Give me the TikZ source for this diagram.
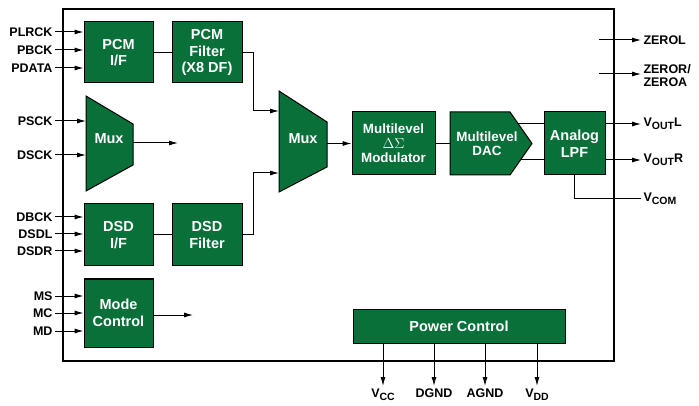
\documentclass[tikz,border=0pt]{standalone}
\usepackage{fontspec}
\setmainfont{Liberation Sans}
\usetikzlibrary{arrows.meta}
\definecolor{chipgreen}{RGB}{8,112,56}
\newcommand{\pinsub}[1]{\raisebox{-3pt}{\fontsize{10.5}{11}\selectfont #1}}

\begin{document}
\begin{tikzpicture}[x=1pt, y=-1pt, line width=1pt,
    blk/.style={draw=black, fill=chipgreen, text=white, inner sep=0pt, align=center,
      font=\fontsize{14.5}{16.5}\selectfont\bfseries},
    blktext/.style={text=white, inner sep=0pt, align=center,
      font=\fontsize{13.4}{14.5}\selectfont\bfseries},
    pin/.style={inner sep=2pt, align=left, font=\fontsize{12.5}{13}\selectfont\bfseries},
    sig/.style={-{Latex[length=9pt,width=5pt]}}]

  \useasboundingbox (0,0) rectangle (699,406);

  % --- chip outline ---
  \draw[line width=1.3pt] (63,9) rectangle (614,361);

  % --- PCM path ---
  \node[blk, minimum width=69pt, minimum height=61pt] (pcmif) at (118.5,52.5) {PCM\\I/F};
  \node[blk, minimum width=70pt, minimum height=61pt] (pcmflt) at (207,52.5) {PCM\\Filter\\(X8 DF)};
  \draw (pcmif) -- (pcmflt);

  \node[pin, anchor=east] (plrck) at (55,32) {PLRCK};
  \node[pin, anchor=east] (pbck) at (55,50) {PBCK};
  \node[pin, anchor=east] (pdata) at (55,68) {PDATA};
  \draw[sig] (plrck.east) -- (pcmif.west |- plrck.east);
  \draw[sig] (pbck.east) -- (pcmif.west |- pbck.east);
  \draw[sig] (pdata.east) -- (pcmif.west |- pdata.east);

  % --- clock mux ---
  \draw[fill=chipgreen] (86,96) -- (133,124) -- (133,165) -- (86,191) -- cycle;
  \node[blk, draw=none, fill=none] (mux1) at (109,139) {Mux};
  \coordinate (mux1in1) at (86,121);
  \coordinate (mux1in2) at (86,155);
  \coordinate (mux1out) at (133,143);
  \coordinate (mux1end) at (178,143);
  \node[pin, anchor=east] (psck) at (55,121) {PSCK};
  \node[pin, anchor=east] (dsck) at (55,155) {DSCK};
  \draw[sig] (psck.east) -- (mux1in1);
  \draw[sig] (dsck.east) -- (mux1in2);
  \draw[sig] (mux1out) -- (mux1end);

  % --- DSD path ---
  \node[blk, minimum width=69pt, minimum height=62pt] (dsdif) at (118.5,235) {DSD\\I/F};
  \node[blk, minimum width=70pt, minimum height=62pt] (dsdflt) at (207,235) {DSD\\Filter};
  \draw (dsdif) -- (dsdflt);

  \node[pin, anchor=east] (dbck) at (55,217) {DBCK};
  \node[pin, anchor=east] (dsdl) at (55,234) {DSDL};
  \node[pin, anchor=east] (dsdr) at (55,251) {DSDR};
  \draw[sig] (dbck.east) -- (dsdif.west |- dbck.east);
  \draw[sig] (dsdl.east) -- (dsdif.west |- dsdl.east);
  \draw[sig] (dsdr.east) -- (dsdif.west |- dsdr.east);

  % --- mode control ---
  \node[blk, minimum width=69pt, minimum height=68pt] (mode) at (118.5,313) {Mode\\Control};
  \node[pin, anchor=east] (ms) at (55,296) {MS};
  \node[pin, anchor=east] (mc) at (55,313) {MC};
  \node[pin, anchor=east] (md) at (55,331) {MD};
  \draw[sig] (ms.east) -- (mode.west |- ms.east);
  \draw[sig] (mc.east) -- (mode.west |- mc.east);
  \draw[sig] (md.east) -- (mode.west |- md.east);
  \coordinate (modeend) at (193,315);
  \draw[sig] (mode.east |- modeend) -- (modeend);

  % --- data mux ---
  \draw[fill=chipgreen] (279,91) -- (327,122) -- (327,167) -- (279,192) -- cycle;
  \node[blk, draw=none, fill=none] (mux2) at (303,139) {Mux};
  \coordinate (mux2in1) at (279,111);
  \coordinate (mux2in2) at (279,173);
  \coordinate (mux2out) at (327,143.5);
  \draw[sig] (pcmflt.east) -- ++(11,0) |- (mux2in1);
  \draw[sig] (dsdflt.east) -- ++(11,0) |- (mux2in2);

  % --- modulator, DAC, LPF ---
  \node[blk, minimum width=83pt, minimum height=63pt, font=\fontsize{13.4}{14.5}\selectfont\bfseries]
    (mod) at (393.5,143.5) {Multilevel\\{\normalfont$\Delta\Sigma$}\\Modulator};
  \draw[sig] (mux2out) -- (mod.west |- mux2out);

  \draw[fill=chipgreen] (450,112) -- (510,112) -- (532,143.5) -- (510,175) -- (450,175) -- cycle;
  \node[blktext] (dac) at (487,143.5) {Multilevel\\DAC};
  \coordinate (dacin) at (450,143.5);
  \coordinate (dacl) at (518.4,124);
  \coordinate (dacr) at (520.5,160);
  \draw (mod.east) -- (dacin);

  \node[blk, minimum width=61pt, minimum height=63pt] (lpf) at (574.5,143.5) {Analog\\LPF};
  \draw (dacl) -- (lpf.west |- dacl);
  \draw (dacr) -- (lpf.west |- dacr);

  % --- analog outputs ---
  \node[pin, anchor=west] (zerol) at (641,40) {ZEROL};
  \node[pin, anchor=west] (zeror) at (641,76) {ZEROR/\\ZEROA};
  \node[pin, anchor=west] (voutl) at (641,124) {V\pinsub{OUT}L};
  \node[pin, anchor=west] (voutr) at (641,160) {V\pinsub{OUT}R};
  \node[pin, anchor=west] (vcom) at (641,199) {V\pinsub{COM}};
  \coordinate (zerolsrc) at (599,40);
  \coordinate (zerorsrc) at (599,74);
  \draw[sig] (zerolsrc) -- (zerol.west |- zerolsrc);
  \draw[sig] (zerorsrc) -- (zeror.west |- zerorsrc);
  \draw[sig] (lpf.east |- voutl.west) -- (voutl.west);
  \draw[sig] (lpf.east |- voutr.west) -- (voutr.west);
  \draw (lpf.south) |- (vcom.west);

  % --- power ---
  \node[blk, minimum width=212pt, minimum height=34pt] (pwr) at (459,326) {Power Control};
  \node[pin, anchor=north] (vcc) at (383,386) {V\pinsub{CC}};
  \node[pin, anchor=north] (dgnd) at (434,386) {DGND};
  \node[pin, anchor=north] (agnd) at (485,386) {AGND};
  \node[pin, anchor=north] (vdd) at (537,386) {V\pinsub{DD}};
  \draw[sig] (vcc.north |- pwr.south) -- (vcc.north);
  \draw[sig] (dgnd.north |- pwr.south) -- (dgnd.north);
  \draw[sig] (agnd.north |- pwr.south) -- (agnd.north);
  \draw[sig] (vdd.north |- pwr.south) -- (vdd.north);
\end{tikzpicture}
\end{document}
